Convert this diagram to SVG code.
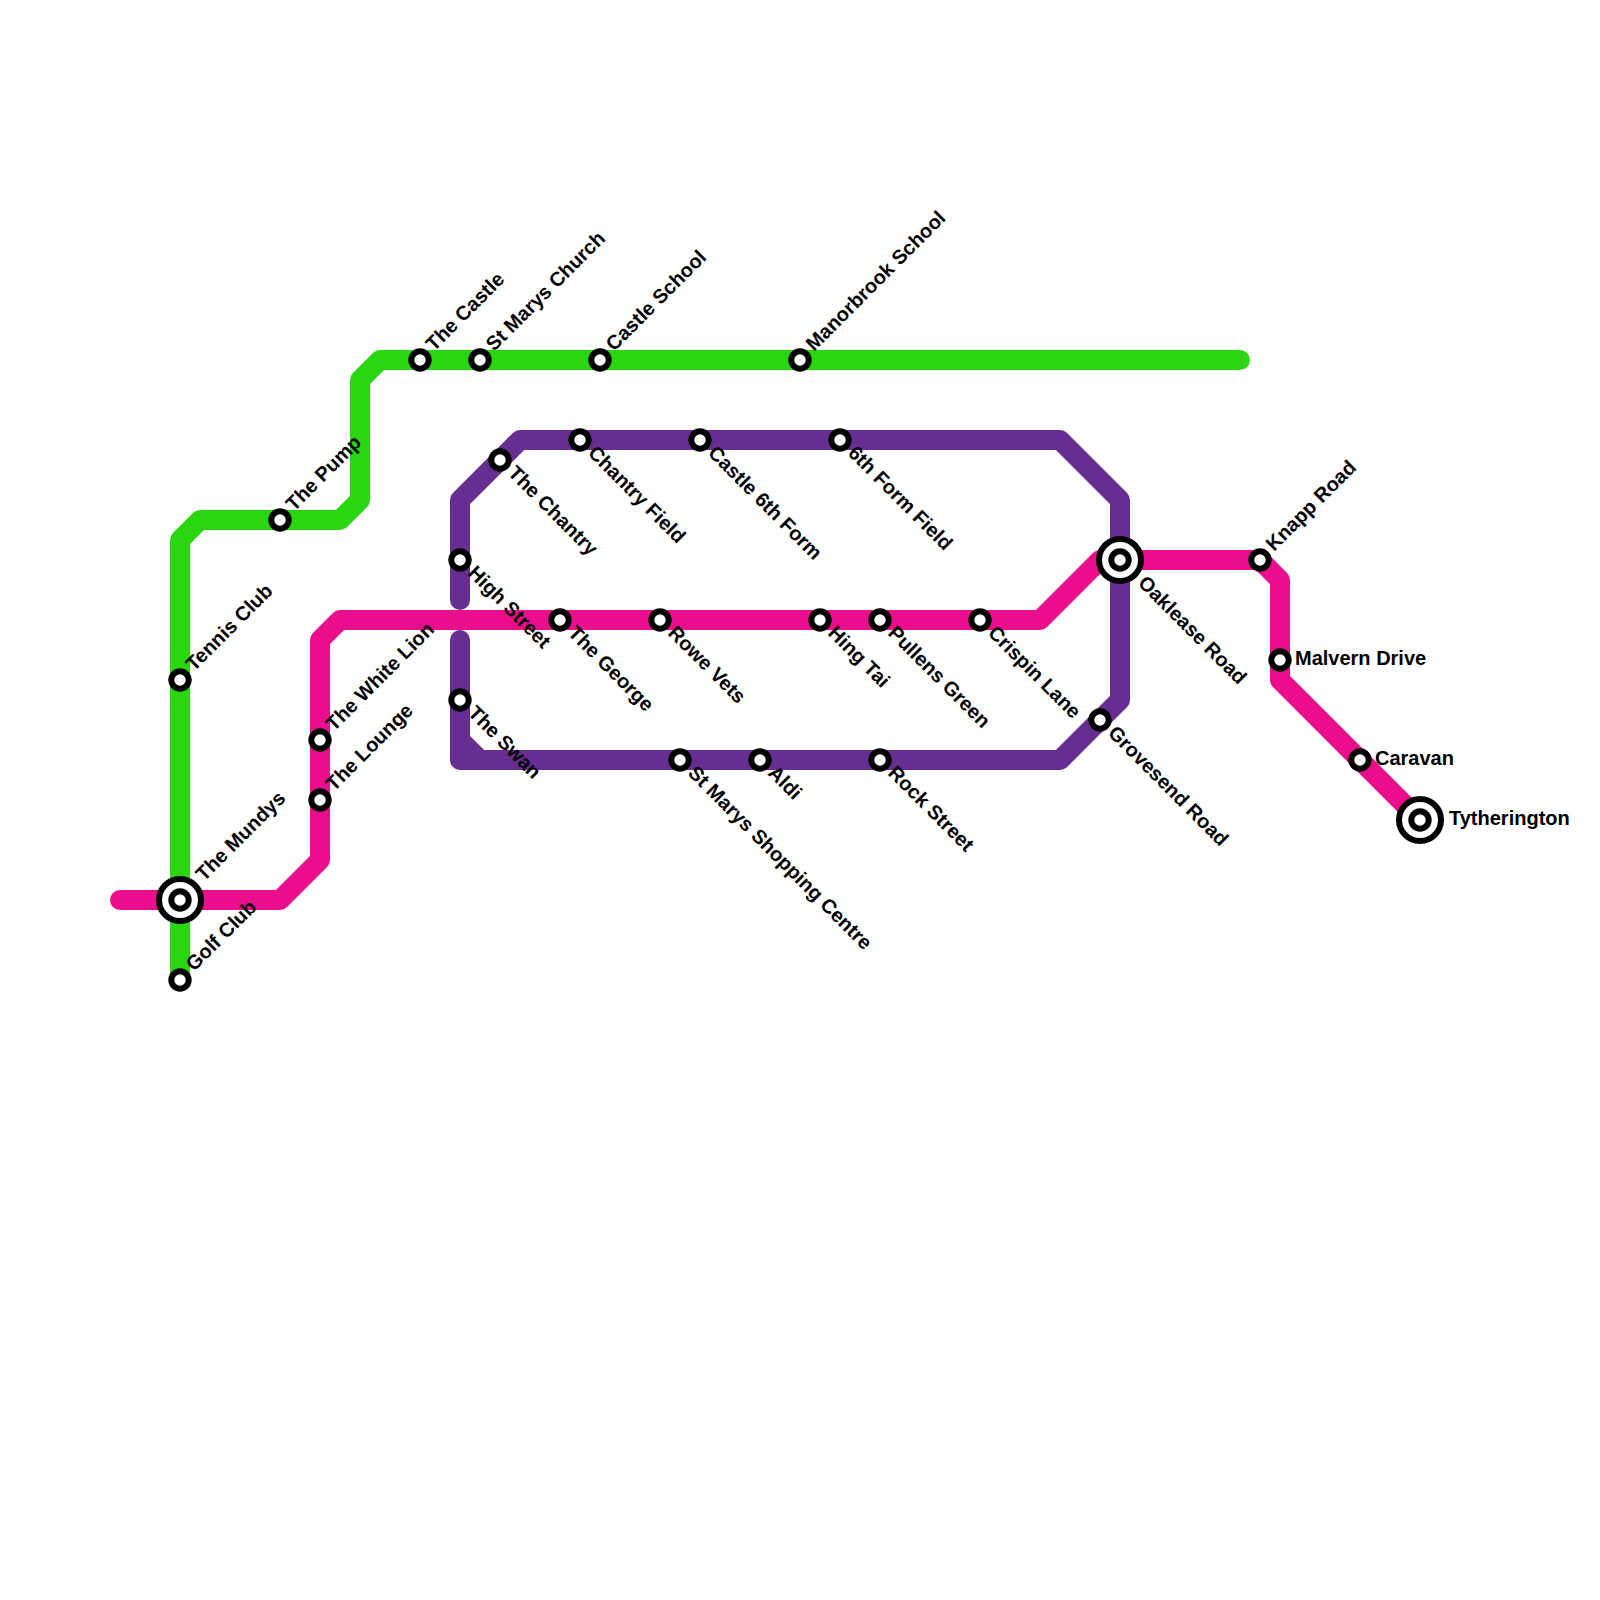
<svg xmlns="http://www.w3.org/2000/svg" width="1600" height="1600" viewBox="0 0 1600 1600">
<style>
.l{fill:none;stroke-width:20;stroke-linecap:round;stroke-linejoin:round}
.g{stroke:#2ad612}.m{stroke:#ea0e8c}.p{stroke:#672d91}
.s{fill:#fff;stroke:#000;stroke-width:6}
.i{fill:#fff;stroke:#000;stroke-width:6}
text{font-family:"Liberation Sans",Arial,sans-serif;font-weight:bold;font-size:20px;fill:#000}
</style>
<rect width="1600" height="1600" fill="#fff"/>
<g id="connectors">
<path class="l g" d="M180 980V540L200 520H340L360 500V380L380 360H1240"/>
<path class="l p" d="M460 600V500L520 440H1060L1120 500V700L1060 760H460V640M460 740L480 760"/>
<path class="l m" d="M120 900H280L320 860V640L340 620H1040L1100 560H1260L1280 580V680L1420 820"/>
</g>
<g id="the-mundys"><circle class="i" cx="180" cy="900" r="21"/><circle class="s" cx="180" cy="900" r="8.7"/><text transform="translate(204 882) rotate(-45)">The Mundys</text></g>
<g id="golf-club"><circle class="s" cx="180" cy="980" r="8.7"/><text transform="translate(194 972) rotate(-45)">Golf Club</text></g>
<g id="tennis-club"><circle class="s" cx="180" cy="680" r="8.7"/><text transform="translate(194 672) rotate(-45)">Tennis Club</text></g>
<g id="the-pump"><circle class="s" cx="280" cy="520" r="8.7"/><text transform="translate(294 512) rotate(-45)">The Pump</text></g>
<g id="the-white-lion"><circle class="s" cx="320" cy="740" r="8.7"/><text transform="translate(334 732) rotate(-45)">The White Lion</text></g>
<g id="the-lounge"><circle class="s" cx="320" cy="800" r="8.7"/><text transform="translate(334 792) rotate(-45)">The Lounge</text></g>
<g id="the-castle"><circle class="s" cx="420" cy="360" r="8.7"/><text transform="translate(434 352) rotate(-45)">The Castle</text></g>
<g id="st-marys-church"><circle class="s" cx="480" cy="360" r="8.7"/><text transform="translate(494 352) rotate(-45)">St Marys Church</text></g>
<g id="castle-school"><circle class="s" cx="600" cy="360" r="8.7"/><text transform="translate(614 352) rotate(-45)">Castle School</text></g>
<g id="manorbrook-school"><circle class="s" cx="800" cy="360" r="8.7"/><text transform="translate(814 352) rotate(-45)">Manorbrook School</text></g>
<g id="the-chantry"><circle class="s" cx="500" cy="460" r="8.7"/><text transform="translate(507 474) rotate(45)">The Chantry</text></g>
<g id="chantry-field"><circle class="s" cx="580" cy="440" r="8.7"/><text transform="translate(587 454) rotate(45)">Chantry Field</text></g>
<g id="castle-6th-form"><circle class="s" cx="700" cy="440" r="8.7"/><text transform="translate(707 454) rotate(45)">Castle 6th Form</text></g>
<g id="6th-form-field"><circle class="s" cx="840" cy="440" r="8.7"/><text transform="translate(847 454) rotate(45)">6th Form Field</text></g>
<g id="high-street"><circle class="s" cx="460" cy="560" r="8.7"/><text transform="translate(467 574) rotate(45)">High Street</text></g>
<g id="the-swan"><circle class="s" cx="460" cy="700" r="8.7"/><text transform="translate(467 714) rotate(45)">The Swan</text></g>
<g id="the-george"><circle class="s" cx="560" cy="620" r="8.7"/><text transform="translate(567 634) rotate(45)">The George</text></g>
<g id="rowe-vets"><circle class="s" cx="660" cy="620" r="8.7"/><text transform="translate(667 634) rotate(45)">Rowe Vets</text></g>
<g id="hing-tai"><circle class="s" cx="820" cy="620" r="8.7"/><text transform="translate(827 634) rotate(45)">Hing Tai</text></g>
<g id="pullens-green"><circle class="s" cx="880" cy="620" r="8.7"/><text transform="translate(887 634) rotate(45)">Pullens Green</text></g>
<g id="crispin-lane"><circle class="s" cx="980" cy="620" r="8.7"/><text transform="translate(987 634) rotate(45)">Crispin Lane</text></g>
<g id="st-marys-shopping-centre"><circle class="s" cx="680" cy="760" r="8.7"/><text transform="translate(687 774) rotate(45)">St Marys Shopping Centre</text></g>
<g id="aldi"><circle class="s" cx="760" cy="760" r="8.7"/><text transform="translate(767 774) rotate(45)">Aldi</text></g>
<g id="rock-street"><circle class="s" cx="880" cy="760" r="8.7"/><text transform="translate(887 774) rotate(45)">Rock Street</text></g>
<g id="grovesend-road"><circle class="s" cx="1100" cy="720" r="8.7"/><text transform="translate(1107 734) rotate(45)">Grovesend Road</text></g>
<g id="oaklease-road"><circle class="i" cx="1120" cy="560" r="21"/><circle class="s" cx="1120" cy="560" r="8.7"/><text transform="translate(1137 584) rotate(45)">Oaklease Road</text></g>
<g id="knapp-road"><circle class="s" cx="1260" cy="560" r="8.7"/><text transform="translate(1274 552) rotate(-45)">Knapp Road</text></g>
<g id="malvern-drive"><circle class="s" cx="1280" cy="660" r="8.7"/><text x="1295" y="665">Malvern Drive</text></g>
<g id="caravan"><circle class="s" cx="1360" cy="760" r="8.7"/><text x="1375" y="765">Caravan</text></g>
<g id="tytherington"><circle class="i" cx="1420" cy="820" r="21"/><circle class="s" cx="1420" cy="820" r="8.7"/><text x="1449" y="825">Tytherington</text></g>
</svg>
